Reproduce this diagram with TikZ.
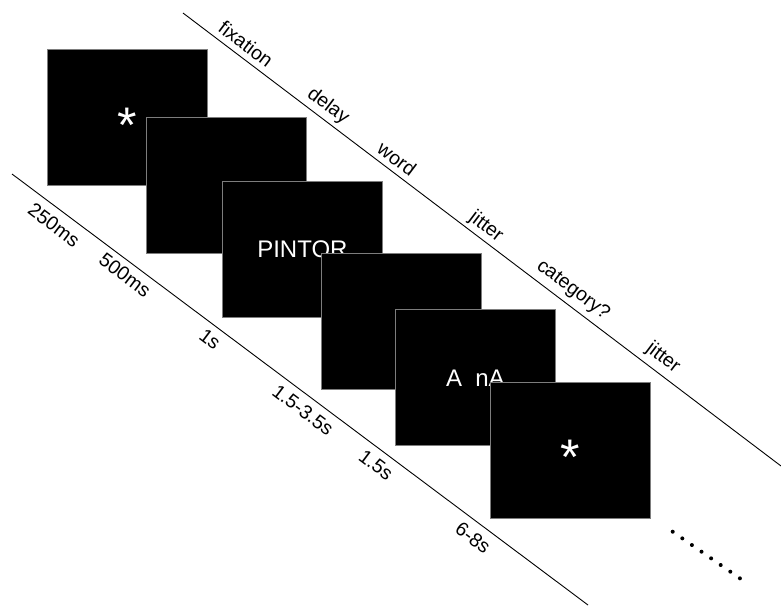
\documentclass[tikz,border=0pt]{standalone}
\usepackage{fontspec}
\setmainfont{Liberation Sans}
\definecolor{screenrim}{RGB}{125,125,125}

% fixation star, centred on the node
\newcommand{\fixstar}{\fontsize{50}{50}\selectfont\raisebox{-.49em}[0pt][0pt]{*}}

\begin{document}
\begin{tikzpicture}[x=1pt, y=-1pt,
    screen/.style={draw=screenrim, fill=black, text=white, line width=1pt,
        minimum width=160pt, minimum height=136pt, inner sep=0pt,
        font=\fontsize{24}{28}\selectfont},
    lbl/.style={rotate=-37, inner sep=0pt, font=\fontsize{19.5}{23}\selectfont}]

    \useasboundingbox (0,0) rectangle (781,606);

    % the two time axes
    \coordinate (ev0) at (183,13);
    \coordinate (ev1) at (781,466);
    \coordinate (dur0) at (12,174);
    \coordinate (dur1) at (588,605);
    \draw[line width=0.9pt] (ev0) -- (ev1);
    \draw[line width=0.9pt] (dur0) -- (dur1);

    % screens, later ones on top
    \node[screen] (fix)   at (127,117.5)   {\fixstar};
    \node[screen] (delay) at (226,185.8)   {};
    \node[screen] (word)  at (302.4,249.5) {PINTOR};
    \node[screen] (jit)   at (401,321)     {};
    \node[screen] (resp)  at (475.4,377.8) {A~~nA};
    \node[screen] (next)  at (570.7,450.2) {\fixstar};

    % events
    \node[lbl] (lfix)   at (246,44)  {fixation};
    \node[lbl] (ldelay) at (328,106) {delay};
    \node[lbl] (lword)  at (397,159) {word};
    \node[lbl] (ljit)   at (486,227) {jitter};
    \node[lbl] (lcat)   at (573,290) {category?};
    \node[lbl] (ljit2)  at (663,358) {jitter};

    % durations
    \node[lbl] (dfix)   at (54,225)  {250ms};
    \node[lbl] (ddelay) at (125,275) {500ms};
    \node[lbl] (dword)  at (210,339) {1s};
    \node[lbl] (djit)   at (303,410) {1.5-3.5s};
    \node[lbl] (dcat)   at (376,465) {1.5s};
    \node[lbl] (djit2)  at (473,538) {6-8s};

    % more trials
    \foreach \i in {0,...,7}
        \fill (672.7+9.6*\i, 531.7+6.66*\i) circle[radius=2pt];

\end{tikzpicture}
\end{document}
